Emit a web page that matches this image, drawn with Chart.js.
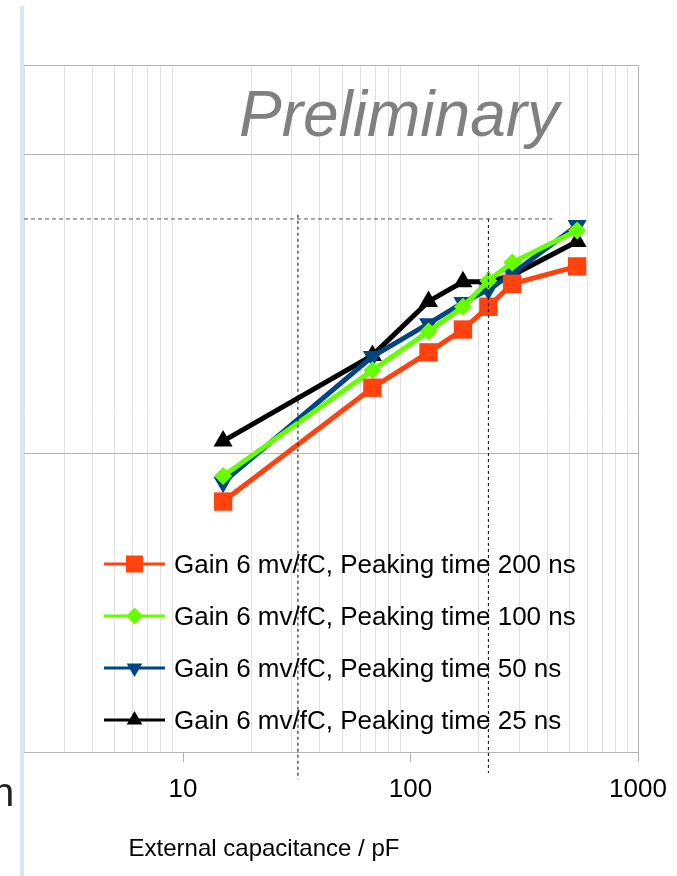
<!DOCTYPE html>
<html>
<head>
<meta charset="utf-8">
<script src="https://cdn.jsdelivr.net/npm/chart.js@4.4.1/dist/chart.umd.min.js"></script>
<style>
  html, body { margin: 0; padding: 0; background: #ffffff; }
  #wrap { position: relative; width: 677px; height: 876px; overflow: hidden; }
  #wrap canvas { position: absolute; left: 0; top: 0; }
  #edge { position: absolute; left: 20px; top: 6px; bottom: 0; width: 4px; background: #dce6f3; }
</style>
</head>
<body>
<div id="wrap">
  <canvas id="noise" width="677" height="876"></canvas>
  <div id="edge"></div>
</div>
<script>
// External capacitance (pF) at which the noise was measured
const capacitance = [15, 68, 120, 170, 220, 280, 540];

// Series labels, one per peaking time
const seriesLabels = [
  'Gain 6 mv/fC, Peaking time 200 ns',
  'Gain 6 mv/fC, Peaking time 100 ns',
  'Gain 6 mv/fC, Peaking time 50 ns',
  'Gain 6 mv/fC, Peaking time 25 ns'
];

// Noise values per peaking time
const noise200ns = [690, 1660, 2180, 2600, 3100, 3700, 4230];
const noise100ns = [840, 1900, 2560, 3100, 3790, 4360, 5580];
const noise50ns  = [800, 2110, 2720, 3200, 3540, 4000, 5800];
const noise25ns  = [1100, 2130, 3230, 3760, 3760, 3950, 5130];

// Axis ranges and labelled ticks
const xTickLabels = [10, 100, 1000];
const xRange = [2, 1000];
const yRange = [100, 20000];
const yGridValues = [100, 1000, 10000, 20000];

// Reference level and the two reference capacitances
const refLevel = 6100;
const refLevelEnd = 420;
const refCaps = [32, 220];
const refCapTops = [6300, 6100];
const refCapBottoms = [81, 85];

const FONT = '"Liberation Sans", Arial, Helvetica, sans-serif';

// every 1..9 x 10^n value inside the x range gets a grid line
const xGridValues = [];
for (let d = 1; d <= 1000; d *= 10) {
  for (let m = 1; m <= 9; m++) {
    const v = m * d;
    if (v >= xRange[0] && v <= xRange[1]) xGridValues.push(v);
  }
}

const seriesStyles = [
  { color: '#ff420e', pointStyle: 'rect',     radius: 13,  rotation: 0,   keyRadius: 12 },
  { color: '#66ff00', pointStyle: 'rectRot',  radius: 9,   rotation: 0,   keyRadius: 8.5 },
  { color: '#004586', pointStyle: 'triangle', radius: 11,  rotation: 180, keyRadius: 9 },
  { color: '#000000', pointStyle: 'triangle', radius: 11,  rotation: 0,   keyRadius: 9 }
];
const seriesValues = [noise200ns, noise100ns, noise50ns, noise25ns];

const seriesDatasets = seriesValues.map((vals, i) => ({
  label: seriesLabels[i],
  data: capacitance.map((c, k) => ({ x: c, y: vals[k] })),
  borderColor: seriesStyles[i].color,
  backgroundColor: seriesStyles[i].color,
  borderWidth: 5,
  tension: 0,
  pointStyle: seriesStyles[i].pointStyle,
  pointRadius: seriesStyles[i].radius,
  pointRotation: seriesStyles[i].rotation,
  pointBorderWidth: 0,
  pointBackgroundColor: seriesStyles[i].color,
  keyRadius: seriesStyles[i].keyRadius
}));

// dashed reference lines (listed first so they are painted on top)
const guideDatasets = [
  {
    label: 'ref-level',
    data: [{ x: xRange[0], y: refLevel }, { x: refLevelEnd, y: refLevel }],
    borderColor: '#555555', borderWidth: 1, borderDash: [4, 3],
    pointRadius: 0, clip: false
  },
  ...refCaps.map((c, i) => ({
    label: 'ref-cap-' + c,
    data: [{ x: c, y: refCapTops[i] }, { x: c, y: refCapBottoms[i] }],
    borderColor: '#000000', borderWidth: 1, borderDash: [3, 3],
    pointRadius: 0, clip: false
  }))
];

// key drawn inside the plot, under the data lines
const seriesKey = {
  id: 'seriesKey',
  beforeDatasetsDraw(chart) {
    const { ctx, chartArea } = chart;
    const x0 = chartArea.left + 80;
    const x1 = chartArea.left + 141;
    const mx = (x0 + x1) / 2;
    const tx = x1 + 9;
    seriesDatasets.forEach((ds, i) => {
      const y = chartArea.top + 499 + i * 52;
      ctx.save();
      ctx.strokeStyle = ds.borderColor;
      ctx.lineWidth = 3;
      ctx.beginPath();
      ctx.moveTo(x0, y);
      ctx.lineTo(x1, y);
      ctx.stroke();
      ctx.fillStyle = ds.borderColor;
      Chart.helpers.drawPoint(ctx, {
        pointStyle: ds.pointStyle, radius: ds.keyRadius,
        rotation: ds.pointRotation, borderWidth: 0
      }, mx, y);
      ctx.fillStyle = '#000000';
      ctx.font = '26px ' + FONT;
      ctx.textAlign = 'left';
      ctx.textBaseline = 'alphabetic';
      ctx.fillText(ds.label, tx, y + 9);
      ctx.restore();
    });

    // watermark
    ctx.save();
    ctx.fillStyle = '#808080';
    ctx.font = 'italic 64px ' + FONT;
    ctx.textAlign = 'left';
    ctx.textBaseline = 'alphabetic';
    ctx.fillText('Preliminary', 239, 136);
    ctx.restore();
  },
  afterDraw(chart) {
    const { ctx, chartArea } = chart;
    ctx.save();
    ctx.fillStyle = '#000000';
    ctx.font = '24px ' + FONT;
    ctx.textAlign = 'center';
    ctx.textBaseline = 'alphabetic';
    ctx.fillText('External capacitance / pF', chartArea.left + 240, 856);
    ctx.fillStyle = '#222222';
    ctx.font = '40px ' + FONT;
    ctx.textAlign = 'left';
    ctx.fillText('n', -8, 806);
    ctx.restore();
  }
};

new Chart(document.getElementById('noise'), {
  type: 'line',
  data: { datasets: [...guideDatasets, ...seriesDatasets] },
  plugins: [seriesKey],
  options: {
    responsive: false,
    animation: false,
    devicePixelRatio: 1,
    layout: { padding: { left: 24, right: 39, top: 65, bottom: 0 } },
    plugins: { legend: { display: false }, tooltip: { enabled: false } },
    scales: {
      x: {
        type: 'logarithmic',
        min: xRange[0],
        max: xRange[1],
        afterBuildTicks: s => { s.ticks = xGridValues.map(v => ({ value: v })); },
        afterFit: s => { s.height = 124; s.paddingLeft = 0; s.paddingRight = 0; },
        ticks: {
          autoSkip: false, maxRotation: 0, minRotation: 0, padding: 12,
          color: '#000000',
          font: { family: FONT, size: 26 },
          callback: v => (xTickLabels.includes(v) ? String(v) : '')
        },
        grid: {
          lineWidth: 1,
          tickLength: 10,
          color: c => {
            const v = c.tick ? c.tick.value : null;
            if (v === xRange[1]) return '#b3b3b3';
            return xTickLabels.includes(v) ? 'rgba(0,0,0,0)' : '#e0e0e0';
          },
          tickColor: c => {
            const v = c.tick ? c.tick.value : null;
            return xTickLabels.includes(v) ? '#b3b3b3' : 'rgba(0,0,0,0)';
          }
        },
        border: { display: true, color: '#b3b3b3', width: 1 }
      },
      y: {
        type: 'logarithmic',
        min: yRange[0],
        max: yRange[1],
        afterBuildTicks: s => { s.ticks = yGridValues.map(v => ({ value: v })); },
        afterFit: s => { s.width = 0; },
        ticks: { display: false },
        grid: { color: '#b3b3b3', lineWidth: 1, drawTicks: false },
        border: { display: false }
      }
    }
  }
});
</script>
</body>
</html>
